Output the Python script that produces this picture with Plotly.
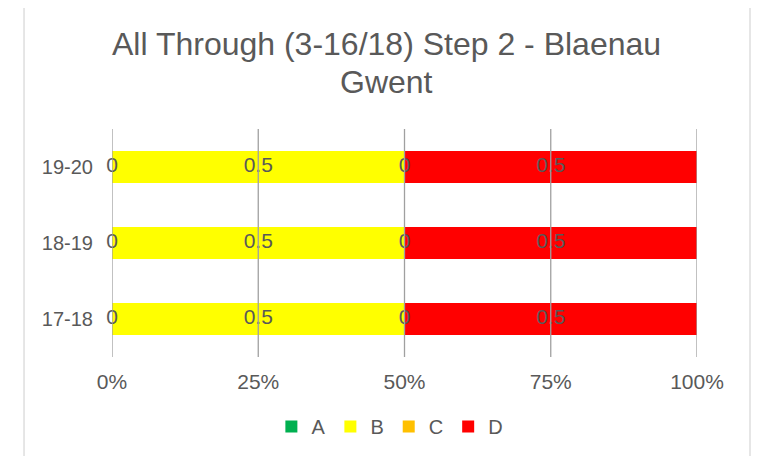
import plotly.graph_objects as go

# ---- data ----
categories = ["17-18", "18-19", "19-20"]
series_names = ["A", "B", "C", "D"]
A_values = [0, 0, 0]
B_values = [0.5, 0.5, 0.5]
C_values = [0, 0, 0]
D_values = [0.5, 0.5, 0.5]
x_tick_values = [0, 0.25, 0.5, 0.75, 1.0]
x_tick_labels = ["0%", "25%", "50%", "75%", "100%"]
title_lines = ["All Through (3-16/18) Step 2 - Blaenau", "Gwent"]

colors = {"A": "#00B050", "B": "#FFFF00", "C": "#FFC000", "D": "#FF0000"}
series_values = {"A": A_values, "B": B_values, "C": C_values, "D": D_values}

FONT = "Liberation Sans, Arial, sans-serif"
TXT = "#595959"

fig = go.Figure()

# stacked bars
for name in series_names:
    fig.add_trace(go.Bar(
        y=categories, x=series_values[name], name=name, orientation="h",
        marker=dict(color=colors[name], line=dict(width=0)),
        hoverinfo="x+y+name",
    ))

# data labels (computed from cumulative sums)
cum = [0.0] * len(categories)
for name in series_names:
    vals = series_values[name]
    mids = [c + v / 2 for c, v in zip(cum, vals)]
    fig.add_trace(go.Scatter(
        y=categories, x=mids, mode="text",
        text=[("%g" % v) for v in vals],
        textposition="middle center",
        textfont=dict(family=FONT, size=21, color=TXT),
        cliponaxis=False,
        showlegend=False, hoverinfo="skip",
    ))
    cum = [c + v for c, v in zip(cum, vals)]

# gridlines drawn above the bars
shapes = []
for xv in x_tick_values:
    shapes.append(dict(type="line", xref="x", yref="paper", x0=xv, x1=xv, y0=0, y1=1,
                       line=dict(color="#A0A0A0", width=1.3), layer="above"))
# chart border
shapes.append(dict(type="rect", xref="paper", yref="paper",
                   x0=-0.1504, x1=1.0906, y0=-0.6, y1=1.5395,
                   line=dict(color="#D9D9D9", width=1.3), layer="below"))

annotations = [
    dict(text=title_lines[0], xref="paper", yref="paper", x=0.470, y=1.371,
         xanchor="center", yanchor="middle", showarrow=False,
         font=dict(family=FONT, size=32, color=TXT)),
    dict(text=title_lines[1], xref="paper", yref="paper", x=0.470, y=1.204,
         xanchor="center", yanchor="middle", showarrow=False,
         font=dict(family=FONT, size=32, color=TXT)),
]

# the page body adds an 8px offset, so the figure is 8px smaller and shifted
fig.update_layout(
    width=762, height=448,
    margin=dict(l=104, r=73, t=121, b=99, autoexpand=False),
    paper_bgcolor="white", plot_bgcolor="white",
    barmode="stack", bargap=0.59,
    font=dict(family=FONT, color=TXT),
    shapes=shapes, annotations=annotations,
    showlegend=True,
    legend=dict(orientation="h", x=0.475, y=-0.305, xanchor="center", yanchor="middle",
                font=dict(family=FONT, size=20, color=TXT), itemwidth=30,
                traceorder="normal", bgcolor="rgba(0,0,0,0)"),
    xaxis=dict(range=[0, 1], tickvals=x_tick_values, ticktext=x_tick_labels,
               showgrid=False, zeroline=False, showline=False, ticks="",
               tickfont=dict(family=FONT, size=21, color=TXT), ticklabelstandoff=10,
               fixedrange=True, automargin=False),
    yaxis=dict(categoryorder="array", categoryarray=categories,
               showgrid=False, zeroline=False, showline=False, ticks="",
               tickfont=dict(family=FONT, size=20, color=TXT), ticklabelstandoff=18,
               fixedrange=True, automargin=False),
)

fig.write_html("out.html")
